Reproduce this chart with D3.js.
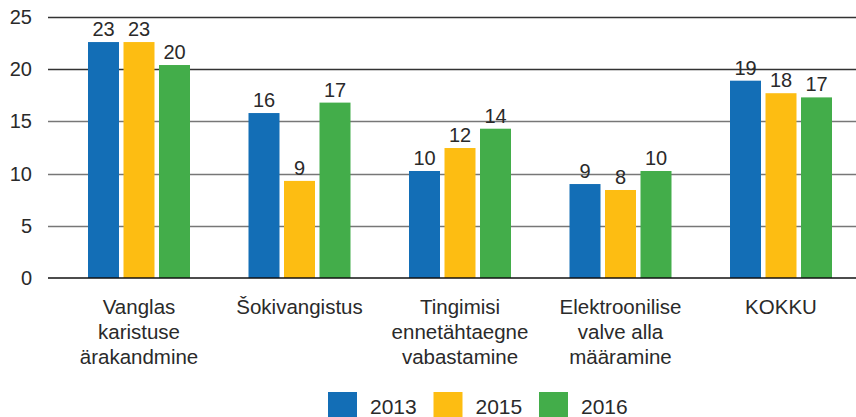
<!DOCTYPE html>
<html>
<head>
<meta charset="utf-8">
<script src="https://cdn.jsdelivr.net/npm/d3@7"></script>
<style>
  body { margin: 0; background: #fff; }
  text { font-family: "Liberation Sans", Arial, sans-serif; fill: #2a2a2a; }
</style>
</head>
<body>
<div id="chart"></div>
<script>
// data
const categories = [
  ["Vanglas", "karistuse", "ärakandmine"],
  ["Šokivangistus"],
  ["Tingimisi", "ennetähtaegne", "vabastamine"],
  ["Elektroonilise", "valve alla", "määramine"],
  ["KOKKU"]
]
const years = ["2013", "2015", "2016"]
const values2013 = [22.6, 15.8, 10.25, 9.0, 18.9]
const values2015 = [22.6, 9.3, 12.45, 8.43, 17.7]
const values2016 = [20.4, 16.8, 14.3, 10.25, 17.3]
const yTicks = [0, 5, 10, 15, 20, 25]
const colors = ["#136eb6", "#fdbd12", "#43ad4a"]

const series = [values2013, values2015, values2016]
const width = 856, height = 417

const svg = d3.select("#chart")
  .append("svg")
    .attr("width", width)
    .attr("height", height)

// scales
const catKeys = categories.map(c => c.join(" "))
const x = d3.scaleBand()
  .domain(catKeys)
  .range([58.75, 861.25])
  .padding(0)

const xInner = d3.scaleBand()
  .domain(years)
  .range([-51, 51])
  .paddingInner(4.5 / 35.5)
  .paddingOuter(0)

const y = d3.scaleLinear()
  .domain([0, 25])
  .range([278, 17])

const color = d3.scaleOrdinal().domain(years).range(colors)

// grid lines
svg.append("g")
  .selectAll("line")
  .data(yTicks.filter(t => t > 0))
  .join("line")
    .attr("x1", 48)
    .attr("x2", width)
    .attr("y1", d => Math.round(y(d)) + 0.5)
    .attr("y2", d => Math.round(y(d)) + 0.5)
    .attr("stroke", d => d >= 20 ? "#333" : "#777")
    .attr("stroke-width", 1.3)

// y axis labels
const yAxis = svg.append("g")
  .attr("transform", "translate(48,0)")
  .call(d3.axisLeft(y).tickValues(yTicks).tickSize(0).tickPadding(16))
yAxis.select(".domain").remove()
yAxis.selectAll("text")
  .attr("font-size", 20)
  .attr("font-family", "Liberation Sans, Arial, sans-serif")
  .attr("fill", "#2a2a2a")

// bars
const groups = svg.append("g")
  .selectAll("g")
  .data(catKeys)
  .join("g")
    .attr("transform", d => `translate(${x(d) + x.bandwidth() / 2},0)`)

groups.selectAll("rect")
  .data((d, i) => years.map((yr, j) => ({ year: yr, value: series[j][i] })))
  .join("rect")
    .attr("x", d => xInner(d.year))
    .attr("width", xInner.bandwidth())
    .attr("y", d => y(d.value))
    .attr("height", d => y(0) - y(d.value))
    .attr("fill", d => color(d.year))

groups.selectAll("text.val")
  .data((d, i) => years.map((yr, j) => ({ year: yr, value: series[j][i] })))
  .join("text")
    .attr("class", "val")
    .attr("x", d => xInner(d.year) + xInner.bandwidth() / 2)
    .attr("y", d => y(d.value) - 6)
    .attr("text-anchor", "middle")
    .attr("font-size", 20)
    .text(d => Math.round(d.value))

// baseline
svg.append("line")
  .attr("x1", 48)
  .attr("x2", width)
  .attr("y1", y(0))
  .attr("y2", y(0))
  .attr("stroke", "#111")
  .attr("stroke-width", 1.5)

// category labels
groups.append("text")
  .attr("text-anchor", "middle")
  .attr("font-size", 20.5)
  .selectAll("tspan")
  .data((d, i) => categories[i])
  .join("tspan")
    .attr("x", 0)
    .attr("y", (d, i) => 314 + i * 25)
    .text(d => d)

// legend
const legend = svg.append("g")
  .selectAll("g")
  .data(years)
  .join("g")
    .attr("transform", (d, i) => `translate(${328 + i * 105.5},392)`)

legend.append("rect")
  .attr("width", 29)
  .attr("height", 28)
  .attr("fill", d => color(d))

legend.append("text")
  .attr("x", 42)
  .attr("y", 22)
  .attr("font-size", 21)
  .text(d => d)
</script>
</body>
</html>
